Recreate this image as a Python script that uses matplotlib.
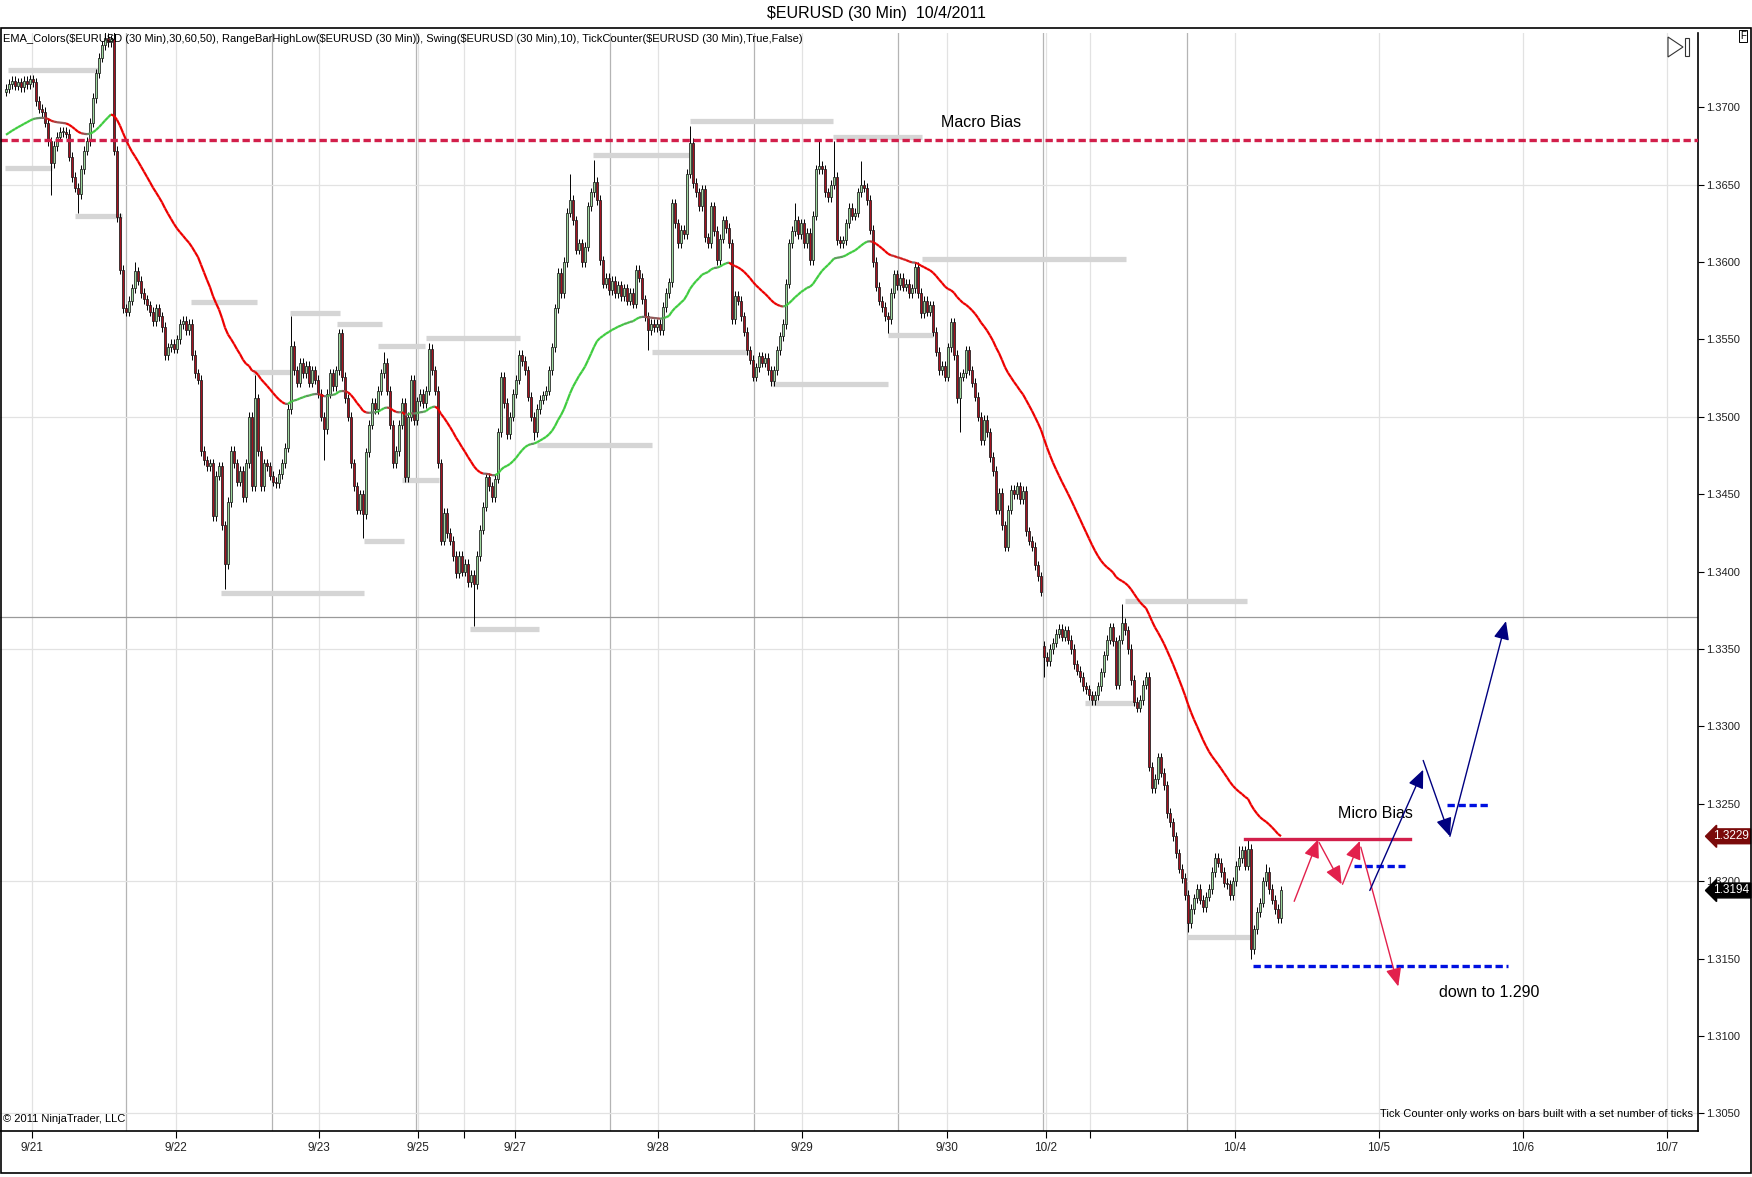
import numpy as np
import matplotlib
matplotlib.use("Agg")
import matplotlib.pyplot as plt
from matplotlib.collections import LineCollection
from matplotlib.patches import Rectangle, Polygon

# closes in pips above 1.3000, one per 30 min bar, first bar index = 2
first_bar = 2
closes_s1 = [712, 715, 717, 714, 716, 713, 717, 715, 718, 716,
             704, 699, 697, 690, 678, 664, 675, 681, 684, 684,
             683, 668, 655, 648, 644, 660, 672, 678, 690, 706,
             722, 732, 740, 745, 742, 744, 672, 629, 595, 570]
closes_s2 = [568, 575, 583, 594, 588, 580, 576, 572, 568, 562,
             570, 565, 558, 540, 545, 547, 544, 550, 560, 562,
             556, 560, 540, 528, 524, 478, 472, 468, 470, 436,
             462, 468, 430, 405, 445, 478, 470, 458, 465, 448,
             470, 500, 455, 512, 478, 455, 470, 468]
closes_s3 = [462, 458, 457, 463, 470, 480, 505, 546, 530, 522,
             535, 528, 533, 522, 530, 524, 515, 500, 492, 515,
             528, 520, 530, 554, 526, 512, 500, 470, 455, 440,
             450, 437, 477, 495, 509, 505, 517, 528, 535, 517,
             495, 470, 478, 495, 509, 461, 500, 524, 498]
closes_s4 = [510, 515, 509, 517, 544, 530, 517, 470, 420, 438,
             425, 420, 410, 399, 410, 400, 405, 393, 398, 392,
             410, 427, 442, 461, 455, 448, 460, 490, 526, 509,
             489, 500, 515, 524, 540, 536, 530, 513, 500, 490,
             505, 511, 514, 517, 530, 545, 570, 593, 580, 600,
             632, 640, 627, 608, 612, 600, 610, 636, 645, 652,
             640, 601, 586, 590]
closes_s5 = [582, 588, 580, 585, 578, 583, 575, 580, 573, 595,
             590, 576, 565, 556, 560, 558, 560, 556, 571, 580,
             587, 638, 625, 612, 621, 618, 657, 677, 651, 645,
             636, 647, 616, 612, 636, 620, 601, 615, 627, 622,
             612, 563, 578, 575, 565, 555, 543, 537]
closes_s6 = [526, 532, 539, 535, 538, 530, 523, 530, 543, 552,
             560, 586, 612, 620, 627, 618, 625, 612, 619, 601,
             630, 660, 662, 660, 645, 642, 650, 655, 614, 612,
             614, 625, 635, 630, 632, 645, 650, 648, 640, 621,
             600, 584, 575, 571, 565, 563, 580, 592]
closes_s7 = [585, 590, 584, 586, 580, 583, 597, 580, 567, 575,
             568, 572, 555, 542, 530, 533, 526, 545, 561, 540,
             512, 526, 528, 543, 530, 522, 513, 500, 485, 498,
             490, 474, 465, 440, 451, 430, 416, 440, 453, 450,
             455, 447, 452, 426, 420, 416, 404, 397, 387]
closes_s8 = [345, 342, 350, 354, 360, 363, 358, 362, 356, 350,
             340, 336, 332, 326, 324, 320, 317, 320, 326, 335,
             346, 356, 364, 355, 327, 356, 367, 362, 350, 330,
             316, 312, 317, 327, 332, 274, 260, 266, 280, 270,
             262, 244, 238, 229, 218, 208, 202]
closes_s9 = [191, 173, 182, 189, 195, 188, 183, 190, 195, 206,
             215, 212, 206, 199, 198, 191, 200, 210, 215, 220,
             210, 221, 156, 169, 180, 186, 200, 206, 195, 188,
             182, 176, 194]

first_open = 710
open_gaps = {348: 352}
wick_highs = {35: 760, 38: 760, 45: 600, 85: 527, 97: 565, 113: 557, 128: 542,
              143: 548, 190: 657, 198: 666, 230: 688, 265: 638, 273: 678,
              278: 678, 287: 665, 374: 379, 413: 223, 416: 227, 422: 211}
wick_lows = {17: 643, 26: 632, 75: 389, 108: 472, 121: 422, 158: 365, 178: 485,
             216: 543, 296: 554, 320: 490, 348: 332, 396: 167, 417: 150}
ema_seed = 681

# gray swing / range levels
swing_start = [2.8, 1.7, 25, 63.8, 84.4, 96.7, 112.4, 126, 141.9, 121.3, 133.9, 73.7,
               156.6, 178.9, 197.8, 230, 277.8, 217.2, 257.2, 296.1, 307.2, 361.7,
               375, 395.6]
swing_end = [32.7, 17.2, 40.5, 85.5, 97.2, 113.2, 127.2, 141.5, 173.2, 134.6, 146.3,
             121.3, 179.5, 217.2, 230, 277.8, 307.2, 249.4, 296.1, 311.1, 375.4,
             378.3, 415.6, 417.2]
swing_level = [724, 661, 630, 574, 529, 567, 560, 546, 551, 420, 459, 386, 363, 482,
               669, 691, 681, 542, 521, 553, 602, 315, 381, 164]

# drawn annotations (bar, pips)
macro_bias = 679
micro_bias = 227
micro_span = (415, 470)
target_low = 145
target_span = (417.5, 502.7)
blue_dash_1 = (451.3, 468.3, 210)
blue_dash_2 = (482.4, 496.4, 249)
red_arrows = [((431.4, 187), (439.4, 227)), ((439.7, 225), (447.2, 198)),
              ((447.5, 198), (453.3, 226)), ((453.6, 222), (466.1, 132))]
blue_arrows = [((456.6, 194), (474.4, 272)), ((474.4, 278), (483.3, 229)),
               ((483.3, 229), (502.0, 368))]
marker_price = [1.3229, 1.3194]
marker_color = ["#7a0a0a", "#000000"]
prev_close_line = 371

tick_pos = [10.5, 58.5, 106.4, 139.3, 154.5, 171.5, 219.2, 267.3, 315.5, 348.5,
            363.3, 411.5, 459.5, 507.5, 555.5]
tick_lbl = ["9/21", "9/22", "9/23", "9/25", "", "9/27", "9/28", "9/29", "9/30",
            "10/2", "", "10/4", "10/5", "10/6", "10/7"]
session_lines = [42, 90.5, 138.5, 203.3, 251.3, 299.3, 347.6, 395.5]
price_ticks = [1.3050 + 0.005 * k for k in range(14)]
grid_prices = [1.3050, 1.3200, 1.3350, 1.3500, 1.3650]


def px(v):
    return 1.3 + np.asarray(v) / 10000.0


closes = np.array(closes_s1 + closes_s2 + closes_s3 + closes_s4 + closes_s5 +
                  closes_s6 + closes_s7 + closes_s8 + closes_s9, dtype=float)
bars = np.arange(first_bar, first_bar + len(closes))
opens = np.concatenate([[first_open], closes[:-1]])
for b, v in open_gaps.items():
    opens[b - first_bar] = v
highs = np.maximum(opens, closes) + 3
lows = np.minimum(opens, closes) - 3
for b, v in wick_highs.items():
    highs[b - first_bar] = v
for b, v in wick_lows.items():
    lows[b - first_bar] = v

plt.rcParams["font.family"] = ["Liberation Sans", "DejaVu Sans"]
narrow = ["Liberation Sans Narrow", "Liberation Sans", "DejaVu Sans"]

W, H = 1752, 1177
fig = plt.figure(figsize=(W / 100, H / 100), dpi=100)
ax = fig.add_axes([0.0, 1 - 1130.7 / H, 1698 / W, (1130.7 - 32.5) / H])
ax.set_xlim(0, 566)
ax.set_ylim(1.30388, 1.37483)

# grid
for t in tick_pos:
    ax.axvline(t, color="#e2e2e2", lw=0.9, zorder=0)
for s in session_lines:
    ax.axvline(s, color="#b4b4b4", lw=0.9, zorder=0)
for g in grid_prices:
    ax.axhline(g, color="#e2e2e2", lw=0.9, zorder=0)
ax.axhline(px(prev_close_line), color="#9a9a9a", lw=0.9, zorder=1)

# swing levels
for a, b, lv in zip(swing_start, swing_end, swing_level):
    ax.plot([a, b], [px(lv), px(lv)], color="#d5d5d5", lw=3.8,
            solid_capstyle="butt", zorder=2)

# macro bias line
ax.axhline(px(macro_bias), color="#d21f4b", lw=2.4, ls=(0, (2.2, 1.1)), zorder=6)

# candles
o, c, h, l = px(opens), px(closes), px(highs), px(lows)
ax.vlines(bars, l, h, color="black", lw=0.7, zorder=3)
up = c >= o
body = np.abs(c - o)
body = np.where(body < 0.00005, 0.00005, body)
bottom = np.minimum(o, c)
ax.bar(bars[up], body[up], bottom=bottom[up], width=0.85, color="#9fd89f",
       edgecolor="#1a1a1a", linewidth=0.55, zorder=4)
ax.bar(bars[~up], body[~up], bottom=bottom[~up], width=0.85, color="#a3121f",
       edgecolor="#1a1a1a", linewidth=0.55, zorder=4)

# EMA with slope colours
alpha = 2.0 / 51.0
ema = []
e = ema_seed
for v in closes:
    e = e + alpha * (v - e)
    ema.append(e)
ema = np.array(ema)
segs, cols = [], []
gray = np.array([0.45, 0.45, 0.45])
red = np.array([0.93, 0.0, 0.0])
green = np.array([0.25, 0.80, 0.25])
for i in range(1, len(ema)):
    s = ema[i] - ema[i - 1]
    t = min(abs(s) / 0.9, 1.0)
    tgt = green if s > 0 else red
    cols.append(tuple(gray * (1 - t) + tgt * t))
    segs.append([(bars[i - 1], px(ema[i - 1])), (bars[i], px(ema[i]))])
ax.add_collection(LineCollection(segs, colors=cols, linewidths=1.6, zorder=5))

# micro bias and targets
ax.plot(micro_span, [px(micro_bias)] * 2, color="#d21f4b", lw=2.4, zorder=6)
ax.plot(target_span, [px(target_low)] * 2, color="#0010e0", lw=2.4,
        ls=(0, (2.2, 1.1)), zorder=6)
for a, b, lv in [blue_dash_1, blue_dash_2]:
    ax.plot([a, b], [px(lv)] * 2, color="#0010e0", lw=2.4, ls=(0, (2.2, 1.1)), zorder=6)

for arrows, col in [(red_arrows, "#e2204c"), (blue_arrows, "#000080")]:
    for (x0, y0), (x1, y1) in arrows:
        ax.annotate("", xy=(x1, px(y1)), xytext=(x0, px(y0)),
                    arrowprops=dict(arrowstyle="-|>,head_length=0.7,head_width=0.3",
                                    color=col, lw=1.0, mutation_scale=16,
                                    shrinkA=0, shrinkB=0), zorder=7)

ax.text(327, px(690), "Macro Bias", fontsize=11.5, ha="center", va="center")
ax.text(458.5, px(244), "Micro Bias", fontsize=11.5, ha="center", va="center")
ax.text(479.8, px(128), "down to 1.290", fontsize=11.5, ha="left", va="center")

# axes styling
for side in ["left", "top"]:
    ax.spines[side].set_visible(False)
ax.spines["right"].set_linewidth(1.2)
ax.spines["bottom"].set_linewidth(1.2)
ax.yaxis.tick_right()
ax.set_yticks(price_ticks)
ax.set_yticklabels(["%.4f" % p for p in price_ticks])
ax.tick_params(axis="y", direction="out", length=4, labelsize=8, pad=2,
               labelcolor="#222222")
ax.set_xticks(tick_pos)
ax.set_xticklabels(tick_lbl, fontfamily=narrow)
ax.tick_params(axis="x", direction="out", length=5, labelsize=8.5, pad=3,
               labelcolor="#222222")

for p, col in zip(marker_price, marker_color):
    ax.text(1.009, p, "%.4f" % p, transform=ax.get_yaxis_transform(), fontsize=8.5,
            color="white", ha="left", va="center", zorder=10, clip_on=False,
            bbox=dict(boxstyle="larrow,pad=0.12", fc=col, ec=col))

ax.text(0.002, 0.006, "\u00a9 2011 NinjaTrader, LLC", transform=ax.transAxes,
        fontsize=8, family=narrow, ha="left", va="bottom")
ax.text(0.997, 0.011, "Tick Counter only works on bars built with a set number of ticks",
        transform=ax.transAxes, fontsize=8, family=narrow, ha="right", va="bottom")

# figure furniture
fig.text(0.5, 1 - 13.4 / H, r"\$EURUSD (30 Min)  10/4/2011", ha="center",
         va="center", fontsize=11.5)
fig.text(3.4 / W, 1 - 39 / H,
         r"EMA_Colors(\$EURUSD (30 Min),30,60,50), RangeBarHighLow(\$EURUSD (30 Min)), "
         r"Swing(\$EURUSD (30 Min),10), TickCounter(\$EURUSD (30 Min),True,False)",
         ha="left", va="center", fontsize=8, family=narrow)
fig.add_artist(Rectangle((0.0006, 1 - 1173 / H), 0.9988, (1173 - 27.6) / H,
                         transform=fig.transFigure, fill=False, ec="black", lw=1.2))
fig.text(1743 / W, 1 - 36 / H, "F", fontsize=7, ha="center", va="center",
         bbox=dict(boxstyle="square,pad=0.15", fc="white", ec="black", lw=0.7))
fig.add_artist(Polygon([(1668 / W, 1 - 37 / H), (1668 / W, 1 - 57 / H),
                        (1683 / W, 1 - 47 / H)], closed=True, fill=False,
                       ec="#333333", lw=0.8, transform=fig.transFigure))
fig.add_artist(Rectangle((1685 / W, 1 - 56 / H), 4 / W, 18 / H, fill=False,
                         ec="#333333", lw=0.8, transform=fig.transFigure))

fig.savefig("out.png", dpi=100, facecolor="white")
